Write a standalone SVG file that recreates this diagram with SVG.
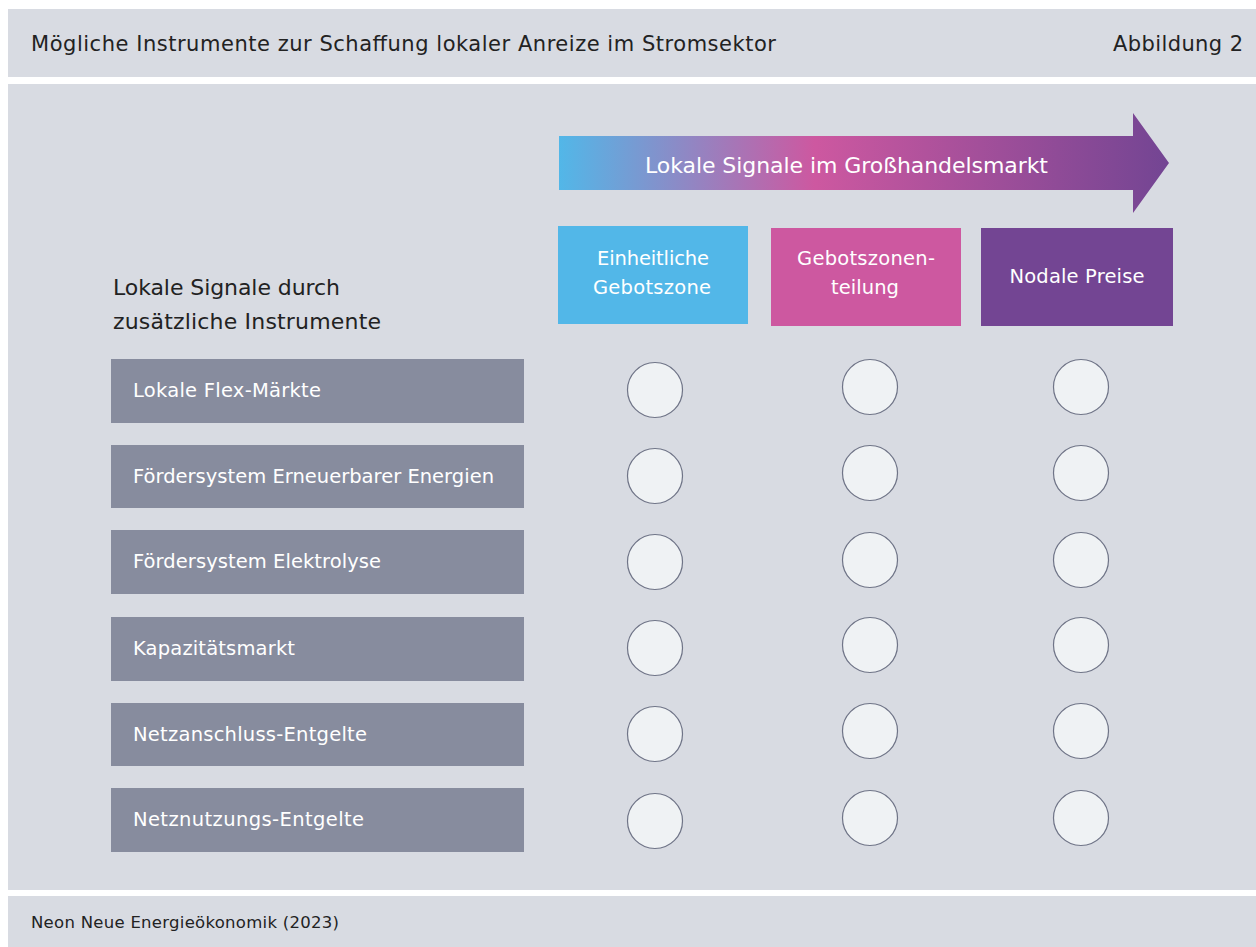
<svg xmlns="http://www.w3.org/2000/svg" width="1256" height="947" viewBox="0 0 1256 947">
<defs>
<linearGradient id="arrowGrad" x1="559" y1="0" x2="1168" y2="0" gradientUnits="userSpaceOnUse">
<stop offset="0" stop-color="#52b7e8"/>
<stop offset="0.42" stop-color="#cd58a0"/>
<stop offset="1" stop-color="#734593"/>
</linearGradient>
</defs>
<style>
.panel{fill:#d8dbe2}
.t{font-family:"DejaVu Sans","Liberation Sans",Arial,sans-serif}
.dark{fill:#222222}
.white{fill:#ffffff}
.row{fill:#878c9e}
.dot{fill:#eff2f4;stroke:#6f7487;stroke-width:1.2}
.rowtxt{font-size:19.5px}
.head{font-size:19.5px;text-anchor:middle}
</style>
<rect width="1256" height="947" fill="#ffffff"/>
<rect class="panel" x="8" y="9" width="1248" height="68"/>
<rect class="panel" x="8" y="84" width="1248" height="806"/>
<rect class="panel" x="8" y="896" width="1248" height="51"/>
<text class="t dark" x="31" y="51" font-size="21" textLength="745">Mögliche Instrumente zur Schaffung lokaler Anreize im Stromsektor</text>
<text class="t dark" x="1113" y="51" font-size="21" textLength="130">Abbildung 2</text>
<text class="t dark" x="31" y="928" font-size="16.5" textLength="308">Neon Neue Energieökonomik (2023)</text>

<g id="arrow">
<polygon points="559,136 1133,136 1133,113 1169,163 1133,213 1133,190 559,190" fill="url(#arrowGrad)"/>
<text class="t white" x="645" y="173" font-size="22" textLength="403">Lokale Signale im Großhandelsmarkt</text>
</g>

<g id="col-einheitlich">
<rect x="558" y="226" width="190" height="98" fill="#52b7e8"/>
<text class="t white head" x="653" y="265" textLength="112">Einheitliche</text>
<text class="t white head" x="652" y="294" textLength="118">Gebotszone</text>
</g>
<g id="col-teilung">
<rect x="771" y="228" width="190" height="98" fill="#cd58a0"/>
<text class="t white head" x="866" y="265" textLength="138">Gebotszonen-</text>
<text class="t white head" x="865" y="294" textLength="68">teilung</text>
</g>
<g id="col-nodal">
<rect x="981" y="228" width="192" height="98" fill="#734593"/>
<text class="t white head" x="1077" y="283" textLength="135">Nodale Preise</text>
</g>

<g id="left-title">
<text class="t dark" x="113" y="295" font-size="22" textLength="227">Lokale Signale durch</text>
<text class="t dark" x="113" y="329" font-size="22" textLength="268">zusätzliche Instrumente</text>
</g>

<g id="row1">
<rect class="row" x="111" y="359" width="413" height="64"/>
<text class="t white rowtxt" x="133" y="397" textLength="188">Lokale Flex-Märkte</text>
<circle class="dot" cx="655" cy="390" r="27.5"/>
<circle class="dot" cx="870" cy="387" r="27.5"/>
<circle class="dot" cx="1081" cy="387" r="27.5"/>
</g>
<g id="row2">
<rect class="row" x="111" y="445" width="413" height="63"/>
<text class="t white rowtxt" x="133" y="483" textLength="361">Fördersystem Erneuerbarer Energien</text>
<circle class="dot" cx="655" cy="476" r="27.5"/>
<circle class="dot" cx="870" cy="473" r="27.5"/>
<circle class="dot" cx="1081" cy="473" r="27.5"/>
</g>
<g id="row3">
<rect class="row" x="111" y="530" width="413" height="64"/>
<text class="t white rowtxt" x="133" y="568" textLength="248">Fördersystem Elektrolyse</text>
<circle class="dot" cx="655" cy="562" r="27.5"/>
<circle class="dot" cx="870" cy="560" r="27.5"/>
<circle class="dot" cx="1081" cy="560" r="27.5"/>
</g>
<g id="row4">
<rect class="row" x="111" y="617" width="413" height="64"/>
<text class="t white rowtxt" x="133" y="655" textLength="162">Kapazitätsmarkt</text>
<circle class="dot" cx="655" cy="648" r="27.5"/>
<circle class="dot" cx="870" cy="645" r="27.5"/>
<circle class="dot" cx="1081" cy="645" r="27.5"/>
</g>
<g id="row5">
<rect class="row" x="111" y="703" width="413" height="63"/>
<text class="t white rowtxt" x="133" y="741" textLength="234">Netzanschluss-Entgelte</text>
<circle class="dot" cx="655" cy="734" r="27.5"/>
<circle class="dot" cx="870" cy="731" r="27.5"/>
<circle class="dot" cx="1081" cy="731" r="27.5"/>
</g>
<g id="row6">
<rect class="row" x="111" y="788" width="413" height="64"/>
<text class="t white rowtxt" x="133" y="826" textLength="231">Netznutzungs-Entgelte</text>
<circle class="dot" cx="655" cy="821" r="27.5"/>
<circle class="dot" cx="870" cy="818" r="27.5"/>
<circle class="dot" cx="1081" cy="818" r="27.5"/>
</g>
<g id="connectors"></g>
</svg>
